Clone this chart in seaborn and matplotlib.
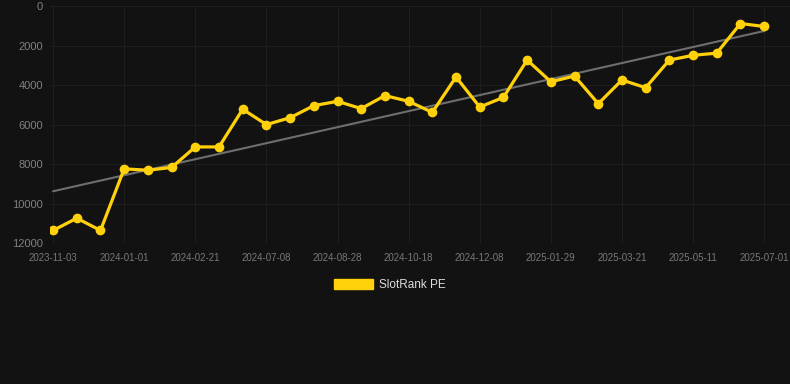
import numpy as np
import pandas as pd
import matplotlib
matplotlib.use("Agg")
import matplotlib.pyplot as plt
from matplotlib.patches import Patch
import seaborn as sns

# Rank values (lower is better, axis inverted)
rank = [11360, 10740, 11360, 8240, 8310, 8170, 7130, 7130, 5220, 6000,
        5650, 5040, 4820, 5190, 4530, 4820, 5380, 3590, 5110, 4620,
        2730, 3830, 3540, 4940, 3740, 4130, 2730, 2490, 2380, 880, 1030]
tick_dates = ["2023-11-03", "2024-01-01", "2024-02-21", "2024-07-08", "2024-08-28",
              "2024-10-18", "2024-12-08", "2025-01-29", "2025-03-21", "2025-05-11",
              "2025-07-01"]
series_name = "SlotRank PE"

bg = "#121212"
gold = "#FFD10A"

df = pd.DataFrame({"idx": np.arange(len(rank)), "rank": rank})

sns.set_theme(style="dark")
plt.rcParams["font.family"] = ["Liberation Sans", "DejaVu Sans"]

fig = plt.figure(figsize=(7.9, 3.84), dpi=100, facecolor=bg)
ax = fig.add_axes([0.0633, 0.367, 0.937, 0.617])
ax.set_facecolor(bg)

# trend line
sns.regplot(data=df, x="idx", y="rank", scatter=False, ci=None, ax=ax,
            line_kws={"color": "#6e6e6e", "lw": 1.5, "zorder": 2})

sns.lineplot(data=df, x="idx", y="rank", ax=ax, color=gold, lw=2.3,
             marker="o", markersize=7, markeredgewidth=0, zorder=3)

ax.set_xlim(-0.13, 31.1)
ax.set_ylim(12000, 0)
ax.set_yticks(range(0, 12001, 2000))
ax.set_xticks(range(0, len(rank), 3))
ax.set_xticklabels(tick_dates)
ax.tick_params(axis="y", colors="#808080", labelsize=8, length=0, pad=5)
ax.tick_params(axis="x", colors="#787878", labelsize=7, length=0, pad=7)
ax.grid(True, color="#1e1e1e", lw=0.8)
ax.axhline(12000, color="#2a2a2a", lw=0.8, zorder=1)
ax.set_xlabel("")
ax.set_ylabel("")
for s in ax.spines.values():
    s.set_visible(False)

fig.legend(handles=[Patch(color=gold, label=series_name)], loc="center",
           bbox_to_anchor=(0.494, 0.258), frameon=False, fontsize=8.5,
           labelcolor="#dddddd", handlelength=3.3, handleheight=0.9,
           handletextpad=0.5)

fig.savefig("out.png", dpi=100, facecolor=bg)
